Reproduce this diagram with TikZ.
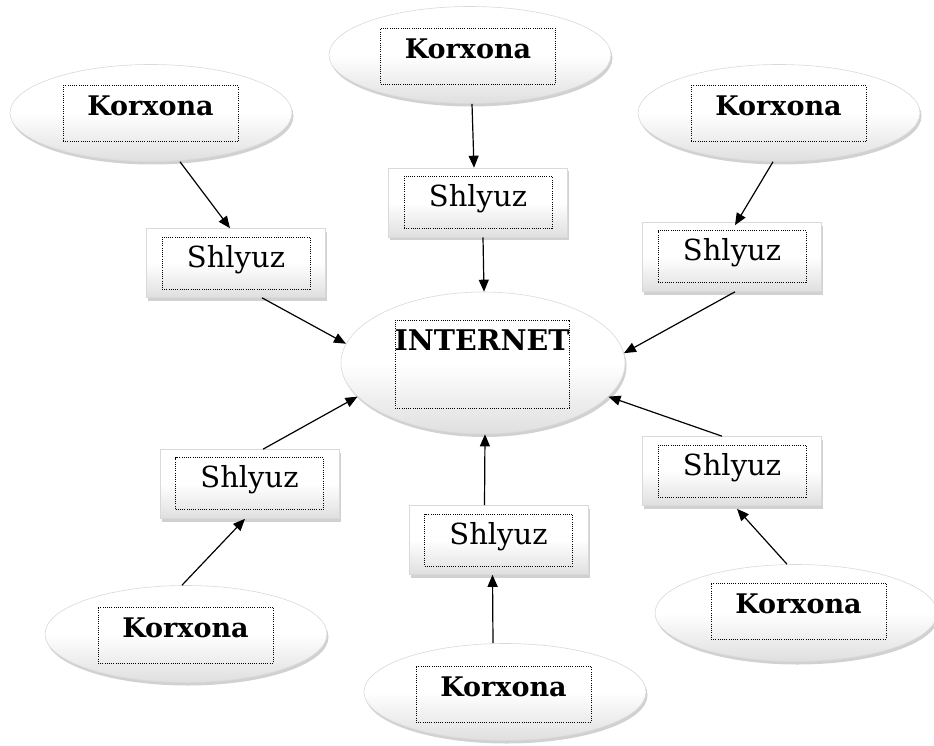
\documentclass[tikz,border=0pt]{standalone}
\usepackage{fontspec}
\setmainfont{DejaVu Serif}
\usetikzlibrary{shapes.geometric,arrows.meta,shadows}
\tikzset{
  shadeshape/.style={top color=white, bottom color=gray!25, middle color=white, draw=gray!30, line width=0.6pt,
    drop shadow={shadow xshift=1.5pt, shadow yshift=-3pt, opacity=0.45, fill=gray!80}},
  korx/.style={shadeshape, ellipse, inner sep=0pt, minimum width=282pt, minimum height=97pt},
  inet/.style={shadeshape, ellipse, inner sep=0pt, minimum width=284pt, minimum height=142pt},
  gate/.style={shadeshape, rectangle, inner sep=0pt, minimum width=179pt, minimum height=69pt},
  dotbox/.style={draw=black, line width=1pt, dash pattern=on 1pt off 1.2pt, inner sep=0pt},
  kbox/.style={dotbox, minimum width=175pt, minimum height=56pt},
  sbox/.style={dotbox, minimum width=148pt, minimum height=52pt},
  ibox/.style={dotbox, minimum width=174pt, minimum height=88pt},
  ktext/.style={anchor=base, inner sep=0pt, font=\fontsize{27}{30}\selectfont\bfseries},
  itext/.style={anchor=base, inner sep=0pt, font=\fontsize{28.5}{30}\selectfont\bfseries},
  stext/.style={anchor=base, inner sep=0pt, font=\fontsize{29}{30}\selectfont},
  conn/.style={line width=1.2pt, -{Triangle[length=12pt,width=10pt]}}
}
\begin{document}
\begin{tikzpicture}[x=1pt,y=-1pt]
\useasboundingbox (0,0) rectangle (934,746);
% Internet
\node[inet] (I) at (483,363) {};
\node[ibox] (Ib) at (482,364) {};
\node[itext] (It) at (482,350) {INTERNET};
% Korxona ellipses
\node[korx] (K1) at (151,113) {};
\node[kbox] (K1b) at (150.5,114) {};
\node[ktext] (K1t) at (150.5,116) {Korxona};
\node[korx] (K2) at (470,55) {};
\node[kbox] (K2b) at (468,56.5) {};
\node[ktext] (K2t) at (468,58.5) {Korxona};
\node[korx] (K3) at (779,113) {};
\node[kbox] (K3b) at (778.5,114) {};
\node[ktext] (K3t) at (778.5,116) {Korxona};
\node[korx] (K4) at (186,634) {};
\node[kbox] (K4b) at (185.5,635) {};
\node[ktext] (K4t) at (185.5,637) {Korxona};
\node[korx] (K5) at (505,692) {};
\node[kbox] (K5b) at (503.5,694) {};
\node[ktext] (K5t) at (503.5,696) {Korxona};
\node[korx] (K6) at (796,613) {};
\node[kbox] (K6b) at (798.5,611) {};
\node[ktext] (K6t) at (798.5,613) {Korxona};
% Shlyuz boxes
\node[gate] (S1) at (236,263) {};
\node[sbox] (S1b) at (236,263) {};
\node[stext] (S1t) at (236,267) {Shlyuz};
\node[gate] (S2) at (478,202.5) {};
\node[sbox] (S2b) at (478,202.5) {};
\node[stext] (S2t) at (478,206.5) {Shlyuz};
\node[gate] (S3) at (732,257) {};
\node[sbox] (S3b) at (732,256.5) {};
\node[stext] (S3t) at (732,260.5) {Shlyuz};
\node[gate] (S4) at (250,484) {};
\node[sbox] (S4b) at (249.5,483.5) {};
\node[stext] (S4t) at (249.5,487.5) {Shlyuz};
\node[gate] (S5) at (732,471) {};
\node[sbox] (S5b) at (732,471) {};
\node[stext] (S5t) at (732,475) {Shlyuz};
\node[gate] (S6) at (498.5,540) {};
\node[sbox] (S6b) at (498.5,540) {};
\node[stext] (S6t) at (498.5,544) {Shlyuz};
% connectors
\draw[conn] ([xshift=29pt]K1.south) -- ([xshift=-6pt]S1.north);
\draw[conn] ([xshift=26pt]S1.south) -- (I.172);
\draw[conn] ([xshift=2pt]K2.south) -- ([xshift=-4pt]S2.north);
\draw[conn] ([xshift=5pt]S2.south) -- ([xshift=1pt]I.north);
\draw[conn] ([xshift=-6pt]K3.south) -- ([xshift=3pt,yshift=-3pt]S3.north);
\draw[conn] ([xshift=3pt]S3.south) -- (I.4);
\draw[conn] ([xshift=13pt]S4.north) -- (I.195);
\draw[conn] ([xshift=-4pt]K4.north) -- ([xshift=-5pt]S4.south);
\draw[conn] ([xshift=-12pt]K5.north) -- ([xshift=-6pt]S6.south);
\draw[conn] ([xshift=-14pt]S6.north) -- ([xshift=2pt]I.south);
\draw[conn] ([xshift=-9pt]K6.north) -- ([xshift=5pt,yshift=-3pt]S5.south);
\draw[conn] ([xshift=-10pt]S5.north) -- (I.-15);
\end{tikzpicture}
\end{document}
